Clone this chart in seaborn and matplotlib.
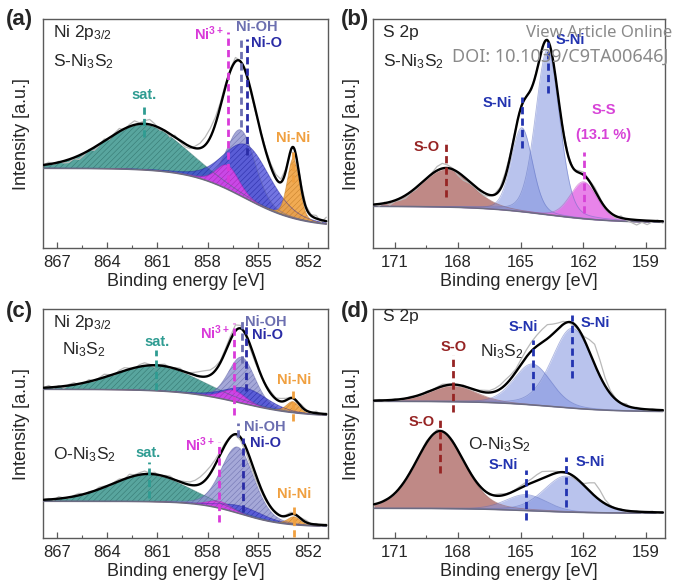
import numpy as np
import pandas as pd
import matplotlib
matplotlib.use("Agg")
import matplotlib.pyplot as plt
from matplotlib.ticker import MultipleLocator, FixedLocator
import seaborn as sns

# ---------------------------------------------------------------- data
# Ni 2p3/2 peaks (centre eV, FWHM eV, height a.u.)
ni_peaks = ["sat.", "Ni-OH", "Ni-O", "Ni3+", "Ni-Ni"]

a_center = [861.8, 856.0, 855.65, 856.8, 852.87]      # (a) S-Ni3S2
a_fwhm = [5.6, 2.0, 3.3, 1.6, 0.85]
a_height = [45, 66, 54, 24, 60]
a_background = [80, 21, 855.8, 1.7]                   # high-BE level, low-BE level, step centre, step width
a_residual = [0, 2, -1, 1, -2, -3, -1, -4, -2, 1, -3, -1, 2, -2, 1, 3, -1, 2, 4, 1,
              3, 5, 2, -2, 1, -3, 2, -1, -3, -2, 2, 5, 8, 9, 7, 4, 3, 2, 4, 1,
              -2, -3, -2, 1, 2, 3, 4, 3, 2, -2, 1, 3, 2, 1, 3, -2, 4]

c1_center = [861.1, 855.96, 855.7, 856.45, 852.9]    # (c) Ni3S2
c1_fwhm = [6.0, 1.9, 3.0, 1.7, 0.9]
c1_height = [25, 46, 16, 11, 11]
c1_background = [149, 121.5, 856.0, 1.8]
c1_residual = [0, 2, -1, 1, -2, 1, 2, -1, 0, 2, -1, 1, 3, 1, -1, 2, 3, 1, -1, 2,
               3, 1, -2, 1, 2, -1, 1, 2, -1, 1, 3, 5, 6, 5, 4, 2, 3, 4, 6, 3,
               -2, -4, -3, -1, 1, 2, 1, 3, 2, 1, -1, 2, 1, -1, 2, -1, 1]

c2_center = [861.53, 856.2, 855.9, 857.3, 852.83]    # (c) O-Ni3S2
c2_fwhm = [5.4, 2.3, 3.0, 1.6, 0.9]
c2_height = [27, 66, 8, 7, 8]
c2_background = [37, 11.5, 856.0, 1.3]
c2_residual = [0, 1, -1, 2, 0, -1, 1, 2, -1, 1, 0, 2, 1, -1, 1, 2, 0, 3, 1, 2,
               3, 1, 2, -1, 1, 2, 0, 1, 2, 3, 5, 7, 8, 7, 5, 3, 2, 1, -1, -3,
               -5, -6, -5, -3, -2, -1, 1, 0, 1, 2, -1, 1, 2, 0, 1, -1, 1]

# S 2p peaks
b_peaks = ["S-O", "S-Ni", "S-Ni", "S-S"]
b_center = [168.56, 164.94, 163.71, 161.99]           # (b) S-Ni3S2
b_fwhm = [2.8, 1.2, 1.35, 1.5]
b_height = [38, 84, 165, 37]
b_background = [42, 25.5, 163.8, 1.6]
b_residual = [0, -2, 1, -3, -1, -2, -3, -1, -2, 0, -1, 1, 4, 5, 3, 1, -3, -4, -2, -1,
              -2, -3, -1, 1, 2, 4, 2, 1, 2, 0, -2, 1, 2, 1, -1, -2, 2, 1, -1, 2,
              3, 1, 3, 2, -1, 1, -2, 2, -1, -3, -5, -2, -4, -1, 1, -2]

d_peaks = ["S-O", "S-Ni", "S-Ni"]
d1_center = [168.24, 164.43, 162.52]                  # (d) Ni3S2
d1_fwhm = [2.6, 2.1, 2.3]
d1_height = [16, 41, 80]
d1_background = [137, 126.5, 163.5, 1.5]
d1_residual = [0, 1, -1, 0, 1, -1, 0, 1, 0, -1, 1, 0, 1, 2, 1, 0, -1, 1, 0, -1,
               1, 2, 2, 3, 4, 5, 4, 3, 5, 7, 9, 11, 13, 14, 10, 6, 3, 0, -2, -1,
               3, 12, 20, 16, 8, 3, 1, 0, 2, -1, 1, 0, -1, 1, 0, -1]

d2_center = [168.85, 164.73, 162.82]                  # (d) O-Ni3S2
d2_fwhm = [2.7, 2.3, 2.5]
d2_height = [77, 16, 36]
d2_background = [30, 25, 164.5, 1.5]
d2_residual = [0, -1, 1, 0, -1, 1, 0, 1, -1, 1, 2, 0, 2, 1, -1, 1, 0, -1, 1, 0,
               1, 0, -1, 1, 2, 1, 0, 1, 2, 3, 4, 6, 7, 5, 3, 1, -1, 0, -2, -1,
               2, 8, 13, 10, 4, 1, 0, 1, -1, 0, 1, -1, 0, 1, -1, 0]

ni_ticks = [867, 864, 861, 858, 855, 852]
s_ticks = [171, 168, 165, 162, 159]

# ---------------------------------------------------------------- styles
sns.set_theme(context="paper", style="white")
plt.rcParams["font.family"] = ["Liberation Sans", "DejaVu Sans"]
plt.rcParams["mathtext.fontset"] = "custom"
plt.rcParams["mathtext.rm"] = "Liberation Sans"
plt.rcParams["mathtext.it"] = "Liberation Sans:italic"
plt.rcParams["mathtext.bf"] = "Liberation Sans:bold"
plt.rcParams["mathtext.default"] = "regular"
plt.rcParams["hatch.linewidth"] = 0.35

STY = {
    "sat.":  dict(fill="#4a9e96", alpha=0.92, hatch="//////", hc="#2f6f69", label="#2f9c92"),
    "Ni-OH": dict(fill="#8f92cf", alpha=0.80, hatch="//////", hc="#5e61a3", label="#6c6fb0"),
    "Ni-O":  dict(fill="#3d40d6", alpha=0.72, hatch="//////", hc="#23259c", label="#2a2ca6"),
    "Ni3+":  dict(fill="#de45ea", alpha=0.85, hatch="//////", hc="#a523b0", label="#d93ad9"),
    "Ni-Ni": dict(fill="#f0a444", alpha=0.92, hatch="//////", hc="#c07a25", label="#f0a040"),
    "S-O":   dict(fill="#b47571", alpha=0.85, hatch=None, hc="#8a4b48", label="#962424"),
    "S-Ni":  dict(fill="#8193df", alpha=0.55, hatch=None, hc="#5a6cc0", label="#2233b0"),
    "S-S":   dict(fill="#e46fe6", alpha=0.85, hatch=None, hc="#b744b8", label="#d742d7"),
}
SPINE = "#5a5a5a"
DASH = (0, (2.6, 1.5))
BLACK_SIZE = 12.5

W, H = 674, 587
fig = plt.figure(figsize=(W / 100, H / 100), dpi=100)


def px_axes(l, t, r, b):
    return fig.add_axes([l / W, 1 - b / H, (r - l) / W, (b - t) / H])


ax_a = px_axes(43, 19, 328, 248.3)
ax_b = px_axes(373, 19, 665, 248.3)
ax_c = px_axes(43, 309, 328, 538.3)
ax_d = px_axes(373, 309, 665, 538.3)


def pvoigt(x, c, fwhm, h, eta=0.2):
    s = fwhm / 2.3548
    g = np.exp(-(x - c) ** 2 / (2 * s * s))
    lo = 1.0 / (1.0 + ((x - c) / (fwhm / 2)) ** 2)
    return h * ((1 - eta) * g + eta * lo)


def step_bg(x, hi, lo, x0, w):
    return lo + (hi - lo) / (1 + np.exp(-(x - x0) / w))


def draw_spectrum(ax, span, names, center, fwhm, height, background, residual):
    x = np.linspace(span[0], span[1], 900)
    base = step_bg(x, *background)
    comps = [pvoigt(x, c, w, h) for c, w, h in zip(center, fwhm, height)]
    for name, comp in zip(names, comps):
        st = STY[name]
        ax.fill_between(x, base, base + comp, facecolor=st["fill"], alpha=st["alpha"],
                        hatch=st["hatch"], edgecolor=st["hc"], linewidth=0, zorder=2)
        ax.plot(x, base + comp, color=st["hc"], lw=0.6, alpha=0.5, zorder=2.2)
    ax.plot(x, base, color="#6c6c82", lw=1.1, zorder=3)
    # measured data (envelope + read-off residual)
    xr = np.linspace(span[0], span[1], len(residual))
    yr = step_bg(xr, *background) + sum(pvoigt(xr, c, w, h) for c, w, h in zip(center, fwhm, height))
    yr = yr + np.array(residual, dtype=float)
    sns.lineplot(x=xr, y=yr, ax=ax, color="#b9b9b9", lw=0.9, sort=False, estimator=None, zorder=4)
    env = base + sum(comps)
    sns.lineplot(x=x, y=env, ax=ax, color="black", lw=1.7, sort=False, estimator=None, zorder=5)


def mark(ax, xpos, y0, y1, name):
    ax.plot([xpos, xpos], [y0, y1], color=STY[name]["label"], lw=2.0, ls=DASH, zorder=6)


def lab(ax, x, y, s, name, ha="center", size=10.5):
    ax.text(x, y, s, color=STY[name]["label"], ha=ha, va="center", fontsize=size,
            fontweight="bold", zorder=7)


def style_axes(ax, xlim, ticks):
    ax.set_xlim(*xlim)
    ax.set_ylim(0, 229.3)
    ax.xaxis.set_major_locator(FixedLocator(ticks))
    ax.xaxis.set_minor_locator(MultipleLocator(1.5))
    ax.set_yticks([])
    ax.tick_params(axis="x", which="major", direction="in", length=4, width=0.9,
                   color=SPINE, labelsize=12, pad=5, bottom=True, top=False)
    ax.tick_params(axis="x", which="minor", direction="in", length=2.5, width=0.8,
                   color=SPINE, bottom=True, top=False)
    for sp in ax.spines.values():
        sp.set_color(SPINE)
        sp.set_linewidth(1.0)
    ax.set_xlabel("Binding energy [eV]", fontsize=13, labelpad=2)
    ax.set_ylabel("Intensity [a.u.]", fontsize=13)
    ax.yaxis.set_label_coords(-0.045, 0.5)


NI_SPAN = (867.8, 850.9)
S_SPAN = (172.0, 158.2)

# ---------------- (a)
draw_spectrum(ax_a, NI_SPAN, ni_peaks, a_center, a_fwhm, a_height, a_background, a_residual)
mark(ax_a, a_center[0], 111.6, 145, "sat.")
mark(ax_a, a_center[3], 66.6, 216.6, "Ni3+")
mark(ax_a, a_center[1], 121.6, 210, "Ni-OH")
mark(ax_a, a_center[2], 93.3, 209, "Ni-O")
mark(ax_a, a_center[4], 66.6, 100, "Ni-Ni")
lab(ax_a, 861.79, 153.3, "sat.", "sat.")
lab(ax_a, 857.05, 215, "Ni$^{3+}$", "Ni3+", ha="right")
lab(ax_a, 855.06, 221, "Ni-OH", "Ni-OH")
lab(ax_a, 855.42, 205, "Ni-O", "Ni-O", ha="left")
lab(ax_a, 852.87, 110, "Ni-Ni", "Ni-Ni")
ax_a.text(0.035, 0.939, "Ni 2p$_{3/2}$", transform=ax_a.transAxes, fontsize=BLACK_SIZE, va="center")
ax_a.text(0.035, 0.812, "S-Ni$_3$S$_2$", transform=ax_a.transAxes, fontsize=BLACK_SIZE, va="center")
style_axes(ax_a, (867.84, 850.8), ni_ticks)

# ---------------- (b)
draw_spectrum(ax_b, S_SPAN, b_peaks, b_center, b_fwhm, b_height, b_background, b_residual)
mark(ax_b, b_center[0], 51.6, 108, "S-O")
mark(ax_b, b_center[1], 100, 151.6, "S-Ni")
mark(ax_b, b_center[2], 155, 206.6, "S-Ni")
mark(ax_b, b_center[3], 35, 96.6, "S-S")
lab(ax_b, 169.48, 101.3, "S-O", "S-O")
lab(ax_b, 166.13, 145.3, "S-Ni", "S-Ni")
lab(ax_b, 163.34, 208.3, "S-Ni", "S-Ni", ha="left")
lab(ax_b, 161.03, 138.3, "S-S", "S-S")
lab(ax_b, 161.03, 113.3, "(13.1 %)", "S-S")
ax_b.text(0.034, 0.939, "S 2p", transform=ax_b.transAxes, fontsize=BLACK_SIZE, va="center")
ax_b.text(0.034, 0.812, "S-Ni$_3$S$_2$", transform=ax_b.transAxes, fontsize=BLACK_SIZE, va="center")
style_axes(ax_b, (172.05, 158.1), s_ticks)

# ---------------- (c)
draw_spectrum(ax_c, NI_SPAN, ni_peaks, c2_center, c2_fwhm, c2_height, c2_background, c2_residual)
draw_spectrum(ax_c, NI_SPAN, ni_peaks, c1_center, c1_fwhm, c1_height, c1_background, c1_residual)
mark(ax_c, c1_center[0], 148, 188, "sat.")
mark(ax_c, c1_center[3], 123, 215, "Ni3+")
mark(ax_c, c1_center[1], 175, 217, "Ni-OH")
mark(ax_c, c1_center[2], 147, 212, "Ni-O")
mark(ax_c, c1_center[4], 117, 151, "Ni-Ni")
mark(ax_c, c2_center[0], 40, 76.6, "sat.")
mark(ax_c, c2_center[3], 16.6, 96.6, "Ni3+")
mark(ax_c, c2_center[1], 101.6, 115, "Ni-OH")
mark(ax_c, c2_center[2], 26.6, 100, "Ni-O")
mark(ax_c, c2_center[4], 1.6, 35, "Ni-Ni")
lab(ax_c, 861.0, 196.3, "sat.", "sat.")
lab(ax_c, 856.65, 205.3, "Ni$^{3+}$", "Ni3+", ha="right")
lab(ax_c, 854.5, 216.3, "Ni-OH", "Ni-OH")
lab(ax_c, 855.36, 203.3, "Ni-O", "Ni-O", ha="left")
lab(ax_c, 852.83, 158.3, "Ni-Ni", "Ni-Ni")
lab(ax_c, 861.53, 85.3, "sat.", "sat.")
lab(ax_c, 857.55, 93.3, "Ni$^{3+}$", "Ni3+", ha="right")
lab(ax_c, 854.6, 111, "Ni-OH", "Ni-OH")
lab(ax_c, 855.46, 95, "Ni-O", "Ni-O", ha="left")
lab(ax_c, 852.83, 44.3, "Ni-Ni", "Ni-Ni")
ax_c.text(0.035, 0.943, "Ni 2p$_{3/2}$", transform=ax_c.transAxes, fontsize=BLACK_SIZE, va="center")
ax_c.text(0.066, 0.822, "Ni$_3$S$_2$", transform=ax_c.transAxes, fontsize=BLACK_SIZE, va="center")
ax_c.text(0.035, 0.364, "O-Ni$_3$S$_2$", transform=ax_c.transAxes, fontsize=BLACK_SIZE, va="center")
style_axes(ax_c, (867.84, 850.8), ni_ticks)

# ---------------- (d)
draw_spectrum(ax_d, S_SPAN, d_peaks, d2_center, d2_fwhm, d2_height, d2_background, d2_residual)
draw_spectrum(ax_d, S_SPAN, d_peaks, d1_center, d1_fwhm, d1_height, d1_background, d1_residual)
mark(ax_d, d1_center[0], 126.6, 183, "S-O")
mark(ax_d, d1_center[1], 148, 198, "S-Ni")
mark(ax_d, d1_center[2], 160, 223, "S-Ni")
mark(ax_d, d2_center[0], 65, 118.3, "S-O")
mark(ax_d, d2_center[1], 18.3, 68.3, "S-Ni")
mark(ax_d, d2_center[2], 31.6, 81.6, "S-Ni")
lab(ax_d, 168.2, 191.6, "S-O", "S-O")
lab(ax_d, 164.86, 211.6, "S-Ni", "S-Ni")
lab(ax_d, 162.15, 215, "S-Ni", "S-Ni", ha="left")
lab(ax_d, 169.72, 116.6, "S-O", "S-O")
lab(ax_d, 165.82, 73.3, "S-Ni", "S-Ni")
lab(ax_d, 162.38, 76.6, "S-Ni", "S-Ni", ha="left")
ax_d.text(0.034, 0.966, "S 2p", transform=ax_d.transAxes, fontsize=BLACK_SIZE, va="center")
ax_d.text(166.93, 186.6, "Ni$_3$S$_2$", fontsize=BLACK_SIZE, va="center")
ax_d.text(167.49, 93.3, "O-Ni$_3$S$_2$", fontsize=BLACK_SIZE, va="center")
style_axes(ax_d, (172.05, 158.1), s_ticks)

# panel letters
for s, xx, yy in [("(a)", 6, 20), ("(b)", 341, 20), ("(c)", 6, 311), ("(d)", 341, 311)]:
    fig.text(xx / W, 1 - yy / H, s, fontsize=16, fontweight="bold", va="center", ha="left")

# watermark
fig.text(672 / W, 1 - 33 / H, "View Article Online", fontsize=12, color="#8a8a8a",
         ha="right", va="center", family=["Noto Sans", "DejaVu Sans"])
fig.text(668 / W, 1 - 57 / H, "DOI: 10.1039/C9TA00646J", fontsize=13, color="#8a8a8a",
         ha="right", va="center", family=["Noto Sans", "DejaVu Sans"])

fig.savefig("out.png", dpi=100)
